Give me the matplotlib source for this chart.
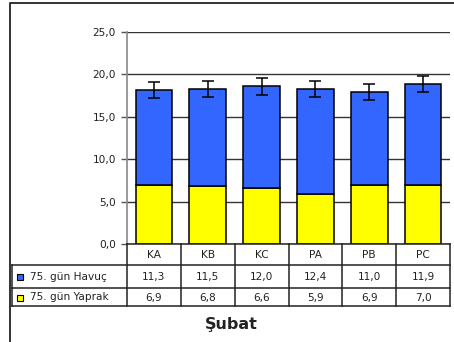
import matplotlib.pyplot as plt
import numpy as np
from matplotlib.lines import Line2D

plt.rcParams['font.family'] = ['DejaVu Sans']

# Dane
kategorie = ['KA', 'KB', 'KC', 'PA', 'PB', 'PC']
havuc = [11.3, 11.5, 12.0, 12.4, 11.0, 11.9]
yaprak = [6.9, 6.8, 6.6, 5.9, 6.9, 7.0]
blad = [0.95, 0.95, 1.0, 0.95, 0.95, 0.95]
seria_nazwy = ['75. gün Havuç', '75. gün Yaprak']
kolory = ['#3366FF', '#FFFF00']
tytul = 'Şubat'

W, H = 454, 342
fig = plt.figure(figsize=(W / 100, H / 100), dpi=100)
fs = 7.6

def fx(px):
    return px / W

def fy(py):
    return 1 - py / H

# Obszar wykresu
x0, x1, y_top, y_bot = 127, 450, 32, 244
ax = fig.add_axes([fx(x0), fy(y_bot), fx(x1) - fx(x0), fy(y_top) - fy(y_bot)])

x = np.arange(len(kategorie))
suma = np.array(havuc) + np.array(yaprak)
ax.bar(x, yaprak, width=0.68, color=kolory[1], edgecolor='black', linewidth=1.1, zorder=3)
ax.bar(x, havuc, bottom=yaprak, width=0.68, color=kolory[0], edgecolor='black', linewidth=1.1, zorder=3)
ax.errorbar(x, suma, yerr=blad, fmt='none', ecolor='black', elinewidth=1.1,
            capsize=4.5, capthick=1.1, zorder=4)

ax.set_xlim(-0.5, len(kategorie) - 0.5)
ax.set_ylim(0, 25)
ax.set_yticks([0, 5, 10, 15, 20, 25])
ax.set_yticklabels(['0,0', '5,0', '10,0', '15,0', '20,0', '25,0'], fontsize=fs, color='#222222')
ax.tick_params(axis='y', length=4, width=1, color='#555555', pad=4)
ax.set_xticks([])
ax.grid(axis='y', color='#333333', linewidth=1, zorder=0)
for s in ['top', 'right', 'bottom']:
    ax.spines[s].set_visible(False)
ax.spines['left'].set_color('#888888')
ax.spines['left'].set_linewidth(1.2)

# Tabela danych
rows = [244, 265, 288, 306]
granice = np.linspace(x0, x1, len(kategorie) + 1)
lc = '#222222'
def linia(xs, ys, **kw):
    fig.add_artist(Line2D([fx(v) for v in xs], [fy(v) for v in ys], color=lc,
                          linewidth=kw.get('lw', 1.1), transform=fig.transFigure))

linia([x0, x1], [244, 244])
for r in rows[1:]:
    linia([12, x1], [r, r])
for g in granice:
    linia([g, g], [244, 306])
linia([12, 12], [265, 306])

for i, k in enumerate(kategorie):
    xc = (granice[i] + granice[i + 1]) / 2
    fig.text(fx(xc), fy(255), k, ha='center', va='center', fontsize=fs, color='#222222')
    fig.text(fx(xc), fy(277), f'{havuc[i]:.1f}'.replace('.', ','), ha='center', va='center',
             fontsize=fs, color='#222222')
    fig.text(fx(xc), fy(297.5), f'{yaprak[i]:.1f}'.replace('.', ','), ha='center', va='center',
             fontsize=fs, color='#222222')

for j, (nazwa, kol) in enumerate(zip(seria_nazwy, kolory)):
    yc = [277, 297.5][j]
    fig.add_artist(plt.Rectangle((fx(17), fy(yc + 3)), fx(6), fy(yc - 3) - fy(yc + 3),
                                 facecolor=kol, edgecolor='black', linewidth=0.8,
                                 transform=fig.transFigure))
    fig.text(fx(30), fy(yc), nazwa, ha='left', va='center', fontsize=fs, color='#222222')

fig.text(fx(231), fy(325), tytul, ha='center', va='center', fontsize=11.5,
         fontweight='bold', color='#222222')

# Ramka
fig.add_artist(Line2D([fx(10), fx(10), fx(W)], [0, fy(3), fy(3)], color='#222222',
                      linewidth=1.3, transform=fig.transFigure))

fig.savefig('out.png', dpi=100)
